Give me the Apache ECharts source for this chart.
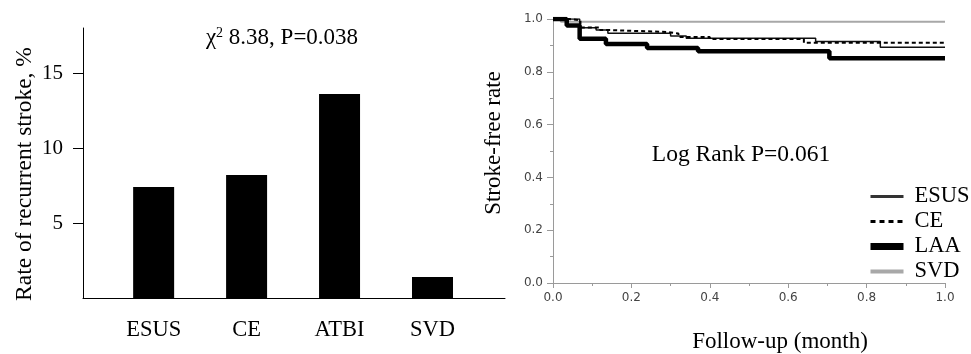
<!DOCTYPE html>
<html>
<head>
<meta charset="utf-8">
<script src="https://cdn.jsdelivr.net/npm/echarts/dist/echarts.min.js"></script>
<style>
  html, body { margin: 0; padding: 0; background: #fff; }
  #main { width: 971px; height: 354px; }
</style>
</head>
<body>
<div id="main"></div>
<script>
// left panel: recurrence rate by subtype
const barCategories = ['ESUS', 'CE', 'ATBI', 'SVD']
const barValues = [7.4, 8.2, 13.6, 1.4]
const rateTicks = [5, 10, 15]

// right panel: Kaplan-Meier steps (time, stroke-free rate)
const esusTime = [0, 0.068, 0.11, 0.14, 0.3, 0.34, 0.67, 0.835, 1.0]
const esusRate = [1.0, 0.967, 0.958, 0.946, 0.936, 0.927, 0.915, 0.893, 0.893]
const ceTime = [0, 0.04, 0.07, 0.12, 0.145, 0.29, 0.32, 0.4, 0.64, 1.0]
const ceRate = [1.0, 0.995, 0.968, 0.958, 0.951, 0.945, 0.932, 0.924, 0.91, 0.91]
const laaTime = [0, 0.035, 0.068, 0.135, 0.24, 0.37, 0.705, 1.0]
const laaRate = [1.0, 0.975, 0.925, 0.905, 0.89, 0.878, 0.851, 0.851]
const svdTime = [0, 0.02, 1.0]
const svdRate = [1.0, 0.99, 0.99]

const serif = 'Liberation Serif'
const pairs = (xs, ys) => xs.map((x, i) => [x, ys[i]])

const kmAxis = {
  type: 'value',
  min: 0,
  max: 1,
  interval: 0.2,
  axisLine: { lineStyle: { color: '#9a9a9a', width: 1 } },
  axisTick: { show: true, length: 5, lineStyle: { color: '#9a9a9a' } },
  minorTick: { show: true, splitNumber: 2, length: 3, lineStyle: { color: '#9a9a9a' } },
  splitLine: { show: false },
  axisLabel: {
    color: '#444',
    fontFamily: 'DejaVu Sans',
    fontSize: 12,
    margin: 9,
    formatter: (v) => v.toFixed(1),
  },
}

const myChart = echarts.init(document.getElementById('main'))

const option = {
  animation: false,
  grid: [
    { left: 83, top: 28, width: 422, height: 270 },
    { left: 553, top: 19, width: 392, height: 264 },
  ],
  xAxis: [
    {
      gridIndex: 0,
      type: 'value',
      min: 0.24,
      max: 4.78,
      axisLine: { lineStyle: { color: '#000', width: 1 } },
      axisTick: { show: false },
      splitLine: { show: false },
      axisLabel: {
        customValues: [1, 2, 3, 4],
        formatter: (v) => barCategories[Math.round(v) - 1],
        color: '#000',
        fontFamily: serif,
        fontSize: 22.5,
        margin: 21,
      },
    },
    Object.assign({ gridIndex: 1 }, kmAxis),
  ],
  yAxis: [
    {
      gridIndex: 0,
      type: 'value',
      min: 0,
      max: 18,
      name: 'Rate of recurrent stroke, %',
      nameLocation: 'middle',
      nameGap: 46,
      // shift the title a little below the axis middle, like the original
      nameTextStyle: { color: '#000', fontFamily: serif, fontSize: 23.5, padding: [0, 22, 0, 0] },
      axisLine: { show: true, lineStyle: { color: '#000', width: 1 } },
      axisTick: { show: true, length: 10, customValues: rateTicks, lineStyle: { color: '#000' } },
      splitLine: { show: false },
      axisLabel: {
        customValues: rateTicks,
        color: '#000',
        fontFamily: serif,
        fontSize: 21,
        margin: 20,
      },
    },
    Object.assign({}, kmAxis, {
      gridIndex: 1,
      name: 'Stroke-free rate',
      nameLocation: 'middle',
      nameGap: 48,
      nameTextStyle: { color: '#000', fontFamily: serif, fontSize: 23, padding: [0, 0, 0, 16] },
      axisLine: { show: true, lineStyle: { color: '#9a9a9a', width: 1 } },
      axisTick: { show: true, length: 6, lineStyle: { color: '#9a9a9a' } },
      axisLabel: Object.assign({}, kmAxis.axisLabel, { margin: 10 }),
    }),
  ],
  legend: {
    orient: 'vertical',
    left: 867,
    top: 185,
    padding: 0,
    itemWidth: 33,
    itemHeight: 14,
    itemGap: 2,
    itemStyle: { opacity: 0 },
    textStyle: { color: '#000', fontFamily: serif, fontSize: 22.5, padding: [0, 0, 0, 6] },
    data: [
      { name: 'ESUS', lineStyle: { width: 3, color: '#333' } },
      { name: 'CE', lineStyle: { width: 3, color: '#000', type: [5, 4] } },
      { name: 'LAA', lineStyle: { width: 7, color: '#000' } },
      { name: 'SVD', lineStyle: { width: 4, color: '#a8a8a8' } },
    ],
  },
  graphic: [
    {
      type: 'text',
      x: 282,
      y: 38,
      style: {
        text: '{a|χ}{s|2}{a| 8.38, P=0.038}',
        align: 'center',
        verticalAlign: 'middle',
        rich: {
          a: { fontFamily: serif, fontSize: 23, fill: '#000', color: '#000' },
          s: { fontFamily: serif, fontSize: 14, fill: '#000', color: '#000', padding: [0, 0, 10, 0] },
        },
      },
    },
    {
      type: 'text',
      x: 741,
      y: 155,
      style: {
        text: 'Log Rank P=0.061',
        align: 'center',
        verticalAlign: 'middle',
        fontFamily: serif,
        fontSize: 23.5,
        fill: '#000',
      },
    },
    {
      type: 'text',
      x: 780,
      y: 342,
      style: {
        text: 'Follow-up (month)',
        align: 'center',
        verticalAlign: 'middle',
        fontFamily: serif,
        fontSize: 23,
        fill: '#000',
      },
    },
  ],
  series: [
    {
      name: 'rate',
      type: 'bar',
      xAxisIndex: 0,
      yAxisIndex: 0,
      barWidth: 41,
      itemStyle: { color: '#000' },
      data: barValues.map((v, i) => [i + 1, v]),
    },
    {
      name: 'SVD',
      type: 'line',
      step: 'end',
      xAxisIndex: 1,
      yAxisIndex: 1,
      symbol: 'none',
      lineStyle: { width: 2, color: '#a8a8a8' },
      data: pairs(svdTime, svdRate),
    },
    {
      name: 'ESUS',
      type: 'line',
      step: 'end',
      xAxisIndex: 1,
      yAxisIndex: 1,
      symbol: 'none',
      lineStyle: { width: 1.5, color: '#111' },
      data: pairs(esusTime, esusRate),
    },
    {
      name: 'CE',
      type: 'line',
      step: 'end',
      xAxisIndex: 1,
      yAxisIndex: 1,
      symbol: 'none',
      lineStyle: { width: 2, color: '#000', type: [4, 3] },
      data: pairs(ceTime, ceRate),
    },
    {
      name: 'LAA',
      type: 'line',
      step: 'end',
      xAxisIndex: 1,
      yAxisIndex: 1,
      symbol: 'none',
      lineStyle: { width: 4.5, color: '#000' },
      data: pairs(laaTime, laaRate),
    },
  ],
}

myChart.setOption(option)
</script>
</body>
</html>
